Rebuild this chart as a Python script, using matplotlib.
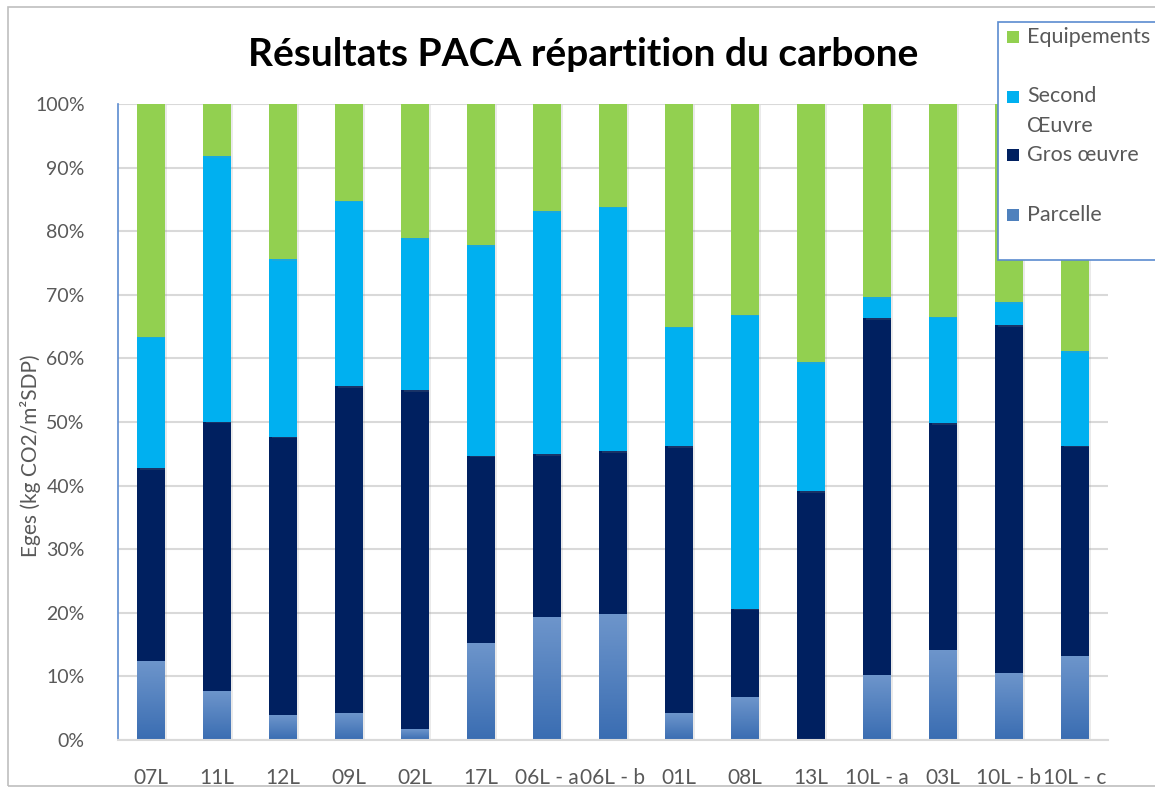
import matplotlib
matplotlib.use("Agg")
import matplotlib.pyplot as plt
import matplotlib.patheffects as pe
from matplotlib.colors import LinearSegmentedColormap
from matplotlib.patches import Rectangle
import numpy as np

plt.rcParams['font.family'] = ['Lato', 'DejaVu Sans']

categories = ["07L", "11L", "12L", "09L", "02L", "17L", "06L - a", "06L - b",
              "01L", "08L", "13L", "10L - a", "03L", "10L - b", "10L - c"]

# shares in %
parcelle = [12.3, 7.6, 3.8, 4.2, 1.6, 15.2, 19.3, 19.8, 4.1, 6.7, 0.0, 10.2, 14.0, 10.5, 13.1]
gros_oeuvre = [30.4, 42.4, 43.9, 51.4, 53.4, 29.5, 25.6, 25.6, 42.1, 13.9, 39.1, 56.1, 35.8, 54.7, 33.2]
second_oeuvre = [20.7, 41.8, 27.9, 29.2, 23.9, 33.1, 38.2, 38.4, 18.8, 46.3, 20.3, 3.3, 16.7, 3.6, 14.8]
equipements = [36.6, 8.2, 24.4, 15.2, 21.1, 22.2, 16.9, 16.2, 35.0, 33.1, 40.6, 30.4, 33.5, 31.2, 38.9]

series_names = ["Equipements", "Second\nŒuvre", "Gros œuvre", "Parcelle"]

c_equip = "#92D050"
c_second = "#00B0F0"
c_gros = "#002060"
c_parc = "#4F81BD"
grad_cmap = LinearSegmentedColormap.from_list("parc", ["#3A6DB2", "#6D95CB"])

W, H = 1155, 790
fig = plt.figure(figsize=(W / 100, H / 100), dpi=100)
ax = fig.add_axes([118 / W, 1 - 740 / H, 990 / W, 636 / H])

def fx(px):
    return px / W

def fy(py):
    return 1 - py / H

# chart frame
fig.patches.append(Rectangle((fx(8), fy(786)), 1.2, (786 - 7) / H, transform=fig.transFigure,
                             fill=False, edgecolor="#BFBFBF", lw=1.2, zorder=0))

x = np.arange(len(categories))
w = 0.41
shadow = [pe.SimplePatchShadow(offset=(2, -1), shadow_rgbFace="#8C8C8C", alpha=0.18), pe.Normal()]

b1 = np.array(parcelle)
b2 = b1 + np.array(gros_oeuvre)
b3 = b2 + np.array(second_oeuvre)

bars_p = ax.bar(x, parcelle, w, color=c_parc, zorder=3, path_effects=shadow)
ax.bar(x, gros_oeuvre, w, bottom=b1, color=c_gros, zorder=3, path_effects=shadow)
ax.bar(x, second_oeuvre, w, bottom=b2, color=c_second, zorder=3, path_effects=shadow)
ax.bar(x, equipements, w, bottom=b3, color=c_equip, zorder=3, path_effects=shadow)

# gradient fill for Parcelle segments
grad = np.linspace(0, 1, 64).reshape(-1, 1)
for r in bars_p:
    h = r.get_height()
    if h <= 0:
        continue
    x0 = r.get_x()
    ax.imshow(grad, extent=(x0, x0 + r.get_width(), 0, h), origin="lower",
              cmap=grad_cmap, aspect="auto", zorder=3.5)

ax.set_xlim(-0.5, len(categories) - 0.5)
ax.set_ylim(0, 100)
ax.set_yticks(np.arange(0, 101, 10))
ax.set_yticklabels([f"{v}%" for v in range(0, 101, 10)])
ax.set_xticks(x)
ax.set_xticklabels(categories)
ax.tick_params(axis="both", length=0, labelcolor="#595959")
ax.tick_params(axis="x", pad=20, labelsize=15)
ax.tick_params(axis="y", pad=24, labelsize=14)

ax.grid(axis="y", color="#D9D9D9", lw=1.5, zorder=0)
ax.set_axisbelow(True)
for s in ["top", "right"]:
    ax.spines[s].set_visible(False)
ax.spines["left"].set_color("#5B8BD0")
ax.spines["left"].set_linewidth(1.2)
ax.spines["bottom"].set_color("#D9D9D9")
ax.spines["bottom"].set_linewidth(1.5)
ax.spines["bottom"].set_zorder(4)

ax.set_ylabel("Eges (kg CO2/m²SDP)", fontsize=15, color="#595959")
ax.yaxis.set_label_coords(-0.078, 0.447)

fig.text(fx(583), fy(55), "Résultats PACA répartition du carbone", ha="center", va="center",
         fontsize=28, fontweight="bold", color="black")

# legend box (drawn by hand to follow the original's spacing)
fig.patches.append(Rectangle((fx(998), fy(260)), fx(1170) - fx(998), (260 - 22) / H,
                             transform=fig.transFigure, facecolor="white",
                             edgecolor="#5B8BD0", lw=1.2, zorder=10))
leg_colors = [c_equip, c_second, c_gros, c_parc]
leg_rows = [37, 97, 155, 215]
for name, col, py in zip(series_names, leg_colors, leg_rows):
    fig.patches.append(Rectangle((fx(1007), fy(py + 6)), 12 / W, 12 / H,
                                 transform=fig.transFigure, facecolor=col,
                                 edgecolor="none", zorder=11))
    multi = "\n" in name
    fig.text(fx(1027), fy(py - 11) if multi else fy(py), name, ha="left",
             va="top" if multi else "center",
             fontsize=15.5, color="#595959", zorder=12, linespacing=1.6)

fig.savefig("out.png", dpi=100)
